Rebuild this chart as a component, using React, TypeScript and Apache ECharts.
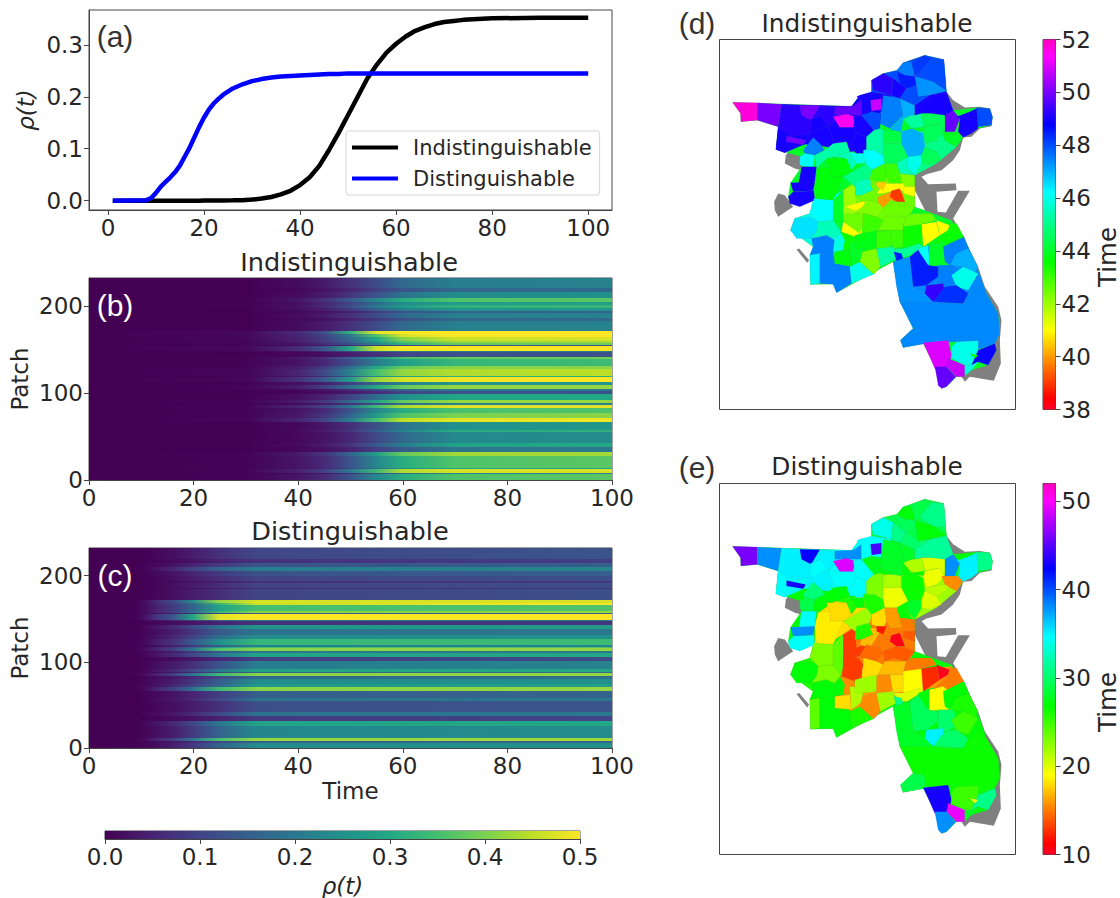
import React, { useEffect, useRef } from "react";
import * as echarts from "echarts";

// ---- Panel (a): mean prevalence over time ----
const timeA = [1,8,9,10,11,12,13,14,15,16,17,18,19,20,21,22,23,24,26,28,30,32,34,36,38,40,42,44,46,48,50,52,54,56,58,60,62,64,66,68,70,72,74,76,80,90,100];
const rhoIndist = [0,0,0,0,0,0,0,0,0,0,0,0,0,0.0005,0.0005,0.0005,0.0005,0.0005,0.0007,0.001,0.002,0.004,0.007,0.012,0.019,0.03,0.045,0.067,0.097,0.13,0.165,0.2,0.235,0.262,0.285,0.302,0.316,0.327,0.334,0.34,0.344,0.346,0.348,0.349,0.351,0.352,0.352];
const rhoDist = [0,0.001,0.005,0.015,0.027,0.036,0.045,0.055,0.068,0.085,0.102,0.122,0.142,0.16,0.175,0.187,0.196,0.204,0.216,0.224,0.23,0.234,0.237,0.239,0.24,0.241,0.242,0.243,0.244,0.244,0.245,0.245,0.245,0.245,0.245,0.245,0.245,0.245,0.245,0.245,0.245,0.245,0.245,0.245,0.245,0.245,0.245];

// ---- Panel (b): bands of patches (top edge of each band) and rho read at the sampled times ----
const timesB = [0,30,40,45,50,55,60,70,100];
const bandTopB = [232,220,216,209.5,204,201,198,194,192,186,183,171,168,164,160,157,155.5,154,148,147,141,138.5,131,127,120,118,113,109.5,105,102,99,92,88.4,86.5,83,77,71,67,58,55,42.5,38,32,27,14,12.5,8.5,6.5];
const rhoB = [
[0,.015,.035,.07,.115,.17,.21,.22],[0,.01,.025,.05,.09,.13,.165,.17],[0,.015,.035,.075,.13,.19,.24,.25],
[.002,.03,.07,.14,.23,.31,.36,.37],[0,.02,.05,.1,.17,.24,.275,.28],[.001,.025,.06,.12,.2,.27,.32,.33],
[0,.018,.04,.085,.15,.21,.255,.26],[0,.01,.02,.045,.085,.125,.155,.16],[0,.015,.035,.07,.115,.17,.215,.22],
[0,.008,.02,.045,.08,.12,.165,.17],[0,.015,.035,.07,.115,.17,.215,.22],[.012,.06,.12,.32,.48,.5,.5,.5],
[.008,.05,.1,.2,.36,.47,.5,.5],[.008,.045,.09,.17,.3,.41,.46,.47],[.006,.04,.08,.15,.26,.36,.42,.43],
[.005,.03,.065,.12,.22,.32,.38,.39],[.002,.015,.03,.055,.08,.1,.12,.12],[.012,.06,.13,.3,.46,.5,.5,.5],
[.004,.02,.05,.1,.16,.19,.2,.21],[0,.008,.02,.04,.07,.1,.125,.13],[.003,.03,.07,.15,.26,.35,.38,.39],
[.002,.025,.055,.12,.21,.28,.33,.34],[.004,.04,.085,.18,.3,.38,.41,.41],[.006,.05,.11,.22,.35,.42,.44,.45],
[.003,.03,.06,.13,.23,.29,.32,.32],[.008,.07,.14,.27,.42,.47,.49,.5],[.002,.02,.04,.09,.16,.22,.26,.26],
[.004,.04,.09,.18,.3,.38,.42,.42],[.001,.012,.03,.06,.11,.16,.2,.2],[0,.006,.015,.035,.06,.1,.13,.13],
[.002,.02,.045,.1,.18,.25,.295,.3],[.004,.035,.08,.17,.29,.38,.42,.42],[.001,.015,.035,.07,.12,.18,.22,.22],
[.006,.05,.1,.2,.34,.44,.48,.48],[.003,.028,.06,.13,.23,.31,.355,.36],[.004,.035,.075,.16,.27,.36,.4,.41],
[.006,.05,.1,.21,.35,.45,.48,.49],[0,.012,.03,.065,.125,.19,.25,.26],[.001,.016,.038,.08,.15,.23,.31,.32],
[0,.01,.025,.055,.11,.17,.235,.24],[.001,.015,.035,.075,.14,.21,.29,.3],[0,.008,.02,.045,.09,.14,.195,.2],
[.004,.035,.075,.16,.28,.38,.43,.43],[.003,.028,.06,.13,.23,.31,.36,.37],[.002,.02,.045,.1,.18,.25,.3,.3],
[.005,.045,.095,.2,.34,.44,.47,.47],[.001,.012,.03,.06,.12,.17,.22,.22],[.003,.028,.06,.13,.23,.31,.36,.37],
];

// ---- Panel (c) ----
const timesC = [0,9,11,13,16,20,25,32,100];
const bandTopC = [232,219.6,215,210,205,199.5,193.7,191,186,184,171.6,168,165.5,158.9,157,155,149,147,142.7,138.4,130.7,126,119.5,117,116,112.9,110.2,105.2,100.5,92,88.2,86.6,83.5,80.4,74.2,70.4,66.5,58,54.1,41.7,37.1,31.7,25.9,11.6,8.5,5.8];
const rhoC = [
[0,.003,.01,.02,.04,.07,.105,.13],[0,.002,.006,.012,.025,.045,.07,.09],[0,.004,.012,.025,.05,.085,.125,.15],
[.001,.008,.025,.055,.1,.16,.21,.23],[0,.004,.012,.025,.05,.085,.125,.15],[0,.003,.008,.02,.04,.065,.1,.12],
[0,.002,.005,.012,.025,.04,.065,.08],[0,.003,.008,.02,.04,.065,.1,.12],[0,.002,.005,.01,.02,.035,.055,.07],
[0,.003,.008,.02,.04,.065,.1,.12],[.002,.025,.065,.11,.24,.42,.47,.47],[.002,.02,.05,.09,.17,.33,.46,.5],
[.002,.02,.045,.085,.16,.29,.35,.36],[.002,.02,.05,.09,.18,.33,.41,.42],[0,.008,.02,.04,.07,.11,.14,.15],
[.003,.03,.08,.13,.3,.48,.5,.5],[.001,.01,.025,.045,.085,.14,.19,.2],[0,.003,.008,.015,.03,.05,.07,.08],
[.001,.012,.03,.055,.11,.19,.26,.27],[0,.008,.02,.04,.08,.14,.19,.2],[.001,.01,.025,.05,.1,.18,.24,.25],
[.001,.015,.04,.07,.14,.25,.33,.34],[0,.008,.02,.04,.08,.15,.215,.22],[.002,.018,.045,.08,.16,.28,.35,.36],
[.002,.022,.05,.09,.2,.36,.41,.42],[0,.008,.02,.04,.08,.14,.195,.2],[.001,.012,.03,.055,.11,.2,.29,.3],
[0,.003,.008,.015,.03,.055,.09,.11],[0,.007,.018,.035,.07,.13,.21,.22],[.001,.012,.03,.055,.11,.2,.29,.3],
[0,.006,.015,.03,.055,.1,.16,.17],[.002,.02,.05,.09,.2,.34,.41,.42],[0,.006,.015,.03,.06,.11,.17,.18],
[0,.008,.02,.04,.08,.15,.24,.25],[.001,.01,.025,.05,.1,.17,.27,.28],[.002,.02,.05,.09,.19,.34,.41,.42],
[0,.004,.012,.025,.05,.09,.15,.16],[0,.006,.015,.03,.06,.11,.19,.2],[0,.003,.01,.02,.04,.07,.12,.13],
[0,.006,.015,.03,.06,.11,.19,.2],[0,.002,.006,.012,.025,.045,.085,.1],[.001,.012,.03,.055,.11,.2,.29,.3],
[.001,.008,.02,.04,.085,.16,.23,.24],[.002,.02,.05,.09,.2,.35,.42,.43],[0,.005,.015,.03,.06,.1,.15,.16],
[.001,.008,.02,.04,.085,.16,.24,.25],
];

// ---- Panels (d), (e): land without data, then patches, in map units ----
const landShapes = [
[[830,275],[850,300],[885,322],[930,320],[960,325],[968,350],[965,378],[930,385],[905,410],[880,412],[870,450],[850,480],[815,510],[770,522],[755,530],[775,552],[858,550],[860,570],[800,575],[803,635],[828,637],[865,572],[900,572],[850,655],[880,710],[925,800],[945,860],[985,920],[995,960],[990,1020],[993,1090],[972,1142],[900,1130],[885,1145],[875,1130],[860,1020],[800,700],[700,500]],
[[345,490],[348,465],[370,435],[400,450],[395,510],[375,505]],
[[313,605],[325,580],[345,585],[370,620],[325,650],[315,630]],
[[380,748],[388,745],[418,780],[412,788]],
];
const patchShapes = [
[[188,306],[545,318],[570,285],[605,280],[605,240],[640,220],[682,210],[700,188],[765,165],[822,178],[830,275],[850,330],[925,322],[960,325],[968,350],[965,375],[925,385],[880,412],[860,440],[800,490],[735,525],[735,620],[845,660],[882,710],[925,810],[950,880],[985,940],[990,1000],[975,1030],[980,1050],[955,1095],[905,1110],[885,1130],[860,1130],[830,1160],[815,1165],[795,1100],[760,1030],[700,1042],[692,1020],[730,985],[690,905],[670,785],[500,878],[490,852],[422,853],[420,765],[430,740],[362,690],[375,655],[420,640],[432,595],[360,610],[355,590],[362,548],[395,500],[395,470],[318,448],[325,380],[262,360],[213,365],[212,340]],
// broad districts, laid under the single patches
[[325,380],[335,312],[545,318],[570,285],[605,280],[640,320],[612,390],[590,450],[540,455],[470,440],[405,432],[345,458],[318,448]],
[[605,240],[640,220],[682,210],[700,188],[765,165],[822,178],[830,275],[850,330],[825,345],[760,340],[700,345],[640,320],[605,280]],
[[670,785],[720,770],[745,745],[882,710],[925,810],[950,880],[880,910],[690,905]],
[[430,600],[520,570],[520,700],[495,760],[420,765],[430,740],[362,690],[375,655],[420,640]],
[[590,410],[640,390],[825,395],[880,410],[860,440],[800,490],[735,525],[650,500],[590,480]],
[[435,545],[445,505],[495,470],[590,450],[600,540],[520,570],[470,600],[435,600]],
[[510,700],[700,680],[845,665],[882,710],[672,755],[612,822],[545,800],[495,760]],
[[520,570],[600,510],[735,525],[735,620],[700,680],[580,700],[520,665]],
// single patches
[[188,306],[262,308],[262,360],[213,365],[212,340]],
[[262,308],[335,312],[325,380],[262,360]],
[[335,312],[390,315],[425,358],[420,400],[365,410],[325,380]],
[[390,315],[450,316],[450,345],[420,358],[395,345]],
[[450,316],[495,320],[495,365],[475,375],[450,345],[425,358]],
[[495,320],[550,318],[575,300],[575,345],[530,345],[495,345]],
[[490,350],[530,342],[555,350],[550,382],[510,382]],
[[325,380],[365,410],[345,420],[400,420],[405,432],[370,440],[345,458],[318,448]],
[[350,408],[408,420],[400,433],[350,425]],
[[420,400],[475,375],[490,420],[470,440],[440,430],[405,420]],
[[475,375],[510,382],[550,382],[560,400],[540,440],[490,420]],
[[550,350],[575,345],[612,390],[600,420],[590,410],[560,400]],
[[540,440],[560,400],[590,410],[590,450],[580,460],[560,460]],
[[400,450],[430,412],[450,430],[465,450],[435,465],[405,460]],
[[390,470],[405,460],[435,465],[430,500],[415,500],[390,495]],
[[435,465],[465,450],[490,430],[530,425],[540,455],[495,470],[470,475],[440,505]],
[[395,500],[440,500],[435,545],[385,555],[390,530]],
[[362,548],[435,545],[430,572],[370,575]],
[[370,575],[432,572],[435,600],[390,620],[360,610],[355,590]],
[[470,475],[530,475],[550,510],[520,530],[480,530],[480,500]],
[[445,505],[480,500],[480,530],[520,530],[490,600],[470,600],[440,595],[435,545]],
[[495,470],[540,455],[575,470],[560,490],[545,510],[530,475]],
[[540,455],[560,460],[580,460],[585,490],[560,490]],
[[580,450],[600,445],[615,450],[640,465],[645,490],[605,510],[585,490]],
[[590,410],[612,390],[630,385],[640,390],[640,465],[615,450],[590,450]],
[[640,392],[690,388],[695,430],[640,430]],
[[640,430],[695,430],[715,470],[680,490],[645,490],[640,465]],
[[695,395],[725,385],[760,400],[765,440],[760,470],[715,470],[695,430]],
[[715,470],[755,465],[755,490],[735,525],[710,500]],
[[680,490],[715,470],[710,500],[730,525],[690,520]],
[[760,400],[765,380],[810,370],[825,395],[800,420],[770,430]],
[[725,345],[755,340],[765,380],[725,385],[700,355]],
[[815,395],[865,395],[880,410],[860,440],[840,430],[825,420]],
[[770,430],[825,420],[840,430],[810,450],[800,455],[765,440]],
[[765,440],[800,455],[815,480],[780,495],[755,490],[755,465]],
[[682,210],[700,188],[725,185],[735,228],[705,225]],
[[725,185],[765,165],[785,175],[760,205],[735,228]],
[[785,175],[822,178],[828,250],[790,245],[750,220],[760,205]],
[[682,215],[705,225],[735,228],[740,255],[710,265],[690,250]],
[[740,255],[735,228],[790,245],[830,272],[780,285],[745,290]],
[[605,240],[640,220],[670,235],[665,285],[610,270]],
[[670,235],[690,250],[710,265],[690,295],[665,285]],
[[560,290],[570,285],[605,275],[665,285],[640,320],[605,335],[590,345],[575,345],[575,300]],
[[602,300],[635,296],[635,328],[605,332]],
[[640,285],[690,295],[700,345],[660,385],[630,370],[635,340]],
[[575,345],[605,335],[635,340],[630,385],[612,390]],
[[690,295],[735,315],[735,345],[725,345],[700,355],[695,395],[660,388],[700,345]],
[[735,315],[780,285],[830,275],[850,330],[830,355],[785,340],[755,340],[735,345]],
[[710,265],[745,290],[780,285],[735,315],[690,295]],
[[825,345],[850,330],[870,355],[855,395],[825,395],[825,370]],
[[860,350],[900,335],[925,322],[925,385],[905,400],[880,412],[865,395],[870,355]],
[[920,322],[960,325],[968,350],[965,375],[925,380]],
[[785,340],[825,345],[825,395],[810,370],[765,380],[755,340]],
[[432,595],[490,600],[510,625],[490,660],[445,665],[420,640]],
[[490,620],[525,610],[520,650],[490,660]],
[[375,655],[420,650],[445,665],[440,695],[425,715],[380,715],[362,690]],
[[445,665],[490,660],[515,690],[495,715],[470,705],[425,715],[440,695]],
[[425,715],[470,705],[495,720],[490,760],[450,760],[420,765],[430,740]],
[[495,715],[515,695],[530,720],[525,750],[490,755]],
[[420,765],[450,760],[450,850],[422,853]],
[[450,760],[490,755],[495,790],[545,800],[545,850],[500,878],[490,852],[450,850]],
[[540,800],[570,785],[612,822],[545,850]],
[[510,695],[555,705],[555,745],[520,750],[525,720]],
[[495,755],[540,750],[545,795],[495,790]],
[[540,725],[580,730],[578,770],[545,795]],
[[490,600],[520,570],[520,665],[515,695],[490,660]],
[[520,665],[570,660],[580,700],[555,710],[515,695]],
[[520,570],[555,550],[560,610],[585,625],[535,650],[520,650]],
[[525,620],[590,600],[590,615],[555,632]],
[[520,640],[565,640],[580,660],[570,700],[520,665]],
[[520,530],[555,510],[590,490],[605,510],[600,540],[555,560]],
[[560,545],[600,535],[610,570],[575,585],[555,585]],
[[605,510],[645,490],[650,530],[640,550],[605,540]],
[[645,490],[680,490],[690,520],[700,550],[660,550],[650,530]],
[[690,520],[730,525],[735,560],[700,570]],
[[600,550],[640,550],[620,580],[600,610],[570,600],[575,585],[610,570]],
[[640,550],[700,550],[715,575],[680,570],[640,580],[620,580]],
[[620,545],[650,545],[640,570],[620,560]],
[[625,590],[665,575],[700,580],[705,605],[660,600],[640,625],[625,610]],
[[665,572],[690,565],[705,605],[680,605],[660,590]],
[[700,560],[735,560],[735,590],[700,580]],
[[590,600],[630,610],[640,625],[620,650],[590,640],[565,640],[575,625]],
[[640,620],[680,605],[710,610],[735,620],[710,650],[670,640],[645,650]],
[[580,640],[620,650],[640,660],[625,690],[600,705],[575,700],[580,660]],
[[645,650],[710,650],[700,690],[660,690],[625,690],[640,660]],
[[575,700],[625,690],[620,740],[580,745],[555,745],[555,705]],
[[620,695],[660,690],[670,730],[640,760],[620,745]],
[[660,690],[700,690],[700,740],[670,745]],
[[700,670],[755,665],[760,740],[700,745]],
[[755,672],[800,665],[810,705],[760,740]],
[[800,660],[840,675],[835,690],[810,705]],
[[840,670],[860,670],[882,710],[875,740],[820,740],[778,745],[835,690]],
[[730,640],[785,640],[800,660],[755,672],[700,680],[710,650]],
[[578,755],[620,745],[635,780],[632,800],[612,822],[570,785]],
[[620,745],[672,740],[680,775],[632,800]],
[[700,745],[750,730],[760,740],[712,770],[685,770],[672,745]],
[[672,755],[695,760],[700,775],[680,785]],
[[745,745],[775,735],[780,795],[760,790]],
[[778,735],[820,725],[845,745],[840,795],[778,798]],
[[820,740],[882,710],[895,745],[860,760],[840,795],[825,785]],
[[860,760],[895,745],[925,800],[905,830],[880,800],[840,795]],
[[805,795],[850,795],[870,840],[830,860],[805,850]],
[[845,825],[880,800],[925,820],[895,870],[860,860]],
[[670,785],[720,770],[730,860],[770,880],[790,905],[730,920],[690,905],[680,860]],
[[690,905],[790,905],[880,910],[895,885],[925,860],[950,880],[985,940],[990,1000],[975,1030],[920,1050],[860,1025],[760,1030],[700,1042],[692,1020],[730,985]],
[[692,1020],[730,985],[762,990],[770,1030],[700,1042]],
[[720,770],[745,750],[775,795],[805,800],[805,830],[770,855],[730,860]],
[[770,855],[820,850],[825,875],[790,905],[765,880]],
[[825,860],[860,855],[895,880],[880,910],[790,905]],
[[760,1028],[835,1020],[845,1065],[835,1100],[795,1105],[775,1060]],
[[795,1100],[830,1100],[858,1130],[830,1160],[815,1165],[805,1155]],
[[835,1075],[885,1095],[885,1130],[860,1130],[830,1100]],
[[860,1025],[925,1022],[925,1050],[905,1095],[885,1095],[845,1075],[845,1040]],
[[925,1050],[975,1030],[980,1050],[955,1095],[925,1085],[905,1095]],
[[900,1060],[925,1065],[915,1075]],
[[885,1095],[905,1095],[925,1085],[905,1110],[885,1125]],
];
const arrivalD = [44,
49,48,47.4,46,45,44,43.8,42.5,
51.7,50,49.2,50,49.2,49.8,51.5,49,50,49,49,49,49,47.5,46.2,45.3,49,49,49,43.7,43.7,45.5,46,46.2,45.3,
44.3,44.5,47,46,45.5,44.5,45.2,44,45,44.5,47.5,48.2,48,48.5,47.3,49.2,49,49,50.8,47.5,48,47,49,48,
49.8,49,48,44.5,46.2,46,46.5,45.5,47.5,46,46.3,47.5,46,43.5,43.7,44,44,41,42,41,42.5,45,45.5,43,43,
42.3,42.5,41,40.5,40,39,41,42.3,42.5,43,42.5,43.8,43,43,43.5,41,41,43.5,42.5,42.3,45.3,45.2,48.5,46.2,
44,47.5,47,47.5,46,47.3,47.4,47.4,48.5,49.3,48.3,51,49.8,50.8,46,48.9,43.5,46];
const arrivalE = [27,
34.5,29,27,26,22,18,16,15,
46,38,35,42.5,35,38,49,34.5,43,35,34.5,34.5,34.5,30.5,29,27,34.5,38,34.5,18,18.5,26,27,26,23,
21.5,19.5,26.5,28,27,19.5,21.5,15.5,21,20,27,29,31,29.5,27,34,31,34.5,44.5,28,27.5,28,31.5,30,
38,35,31,20,23,25,27,23,27,27,24,27,26,15.5,18,21.5,24,13,13,13,13,22,26,18,16,
15,17,15,12,15,10.5,14,14.5,14,18,17,22,15.5,18,19,12.5,10.3,15,15,15.5,22,20,31,27,
19,27,26,30,25,28,26.5,29,29.5,35,30,43,38,49.5,25,31,19,28];

// ---- Colour maps ----
const viridisStops = ["#440154","#482475","#414487","#355f8d","#2a788e","#21918c","#22a884","#44bf70","#7ad151","#bddf26","#fde725"];
const rainbowStops: [number, number[]][] = [[0,[255,0,41]],[0.03,[255,0,0]],[0.215,[255,255,0]],[0.4,[0,255,0]],[0.586,[0,255,255]],[0.77,[0,0,255]],[0.954,[255,0,255]],[1,[255,0,191]]];

const hexRgb = (h: string) => [1, 3, 5].map((i) => parseInt(h.slice(i, i + 2), 16));
const mix = (a: number[], b: number[], f: number) => `rgb(${a.map((c, i) => Math.round(c + (b[i] - c) * f)).join(",")})`;
function viridis(v: number) {
  const t = Math.min(0.9999, Math.max(0, v / 0.5)) * 10;
  const i = Math.floor(t);
  return mix(hexRgb(viridisStops[i]), hexRgb(viridisStops[i + 1]), t - i);
}
function rainbow(t: number) {
  for (let i = 1; i < rainbowStops.length; i++) {
    if (t <= rainbowStops[i][0]) {
      const [a, ca] = rainbowStops[i - 1];
      const [b, cb] = rainbowStops[i];
      return mix(ca, cb, (t - a) / (b - a));
    }
  }
  return "rgb(255,0,191)";
}

const FONT = "DejaVu Sans";
const INK = "#262626";
const TICK = 23;

function valueAxis(gridIndex: number, min: number, max: number, ticks: number[], extra: any = {}) {
  return {
    type: "value", gridIndex, min, max, splitLine: { show: false },
    axisLine: { show: true, onZero: false, lineStyle: { color: "#444", width: 1 } },
    axisTick: { show: true, length: 5, customValues: ticks, lineStyle: { color: "#444" } },
    axisLabel: { customValues: ticks, fontFamily: FONT, fontSize: TICK, color: INK, margin: 6, hideOverlap: false, showMinLabel: true, showMaxLabel: true, ...(extra.label || {}) },
    ...(extra.axis || {}),
  };
}
const hiddenAxis = (gridIndex: number, min: number, max: number, inverse = false) => ({ type: "value", gridIndex, min, max, inverse, show: false });

function heatSeries(idx: number, tops: number[], rows: number[][], times: number[]) {
  return {
    type: "custom", xAxisIndex: idx, yAxisIndex: idx, silent: true, z: 1,
    data: tops.map((t, i) => [i]),
    renderItem: (p: any, api: any) => {
      const i = p.dataIndex;
      const a = api.coord([0, tops[i]]);
      const b = api.coord([100, i + 1 < tops.length ? tops[i + 1] : 0]);
      const vals = [0, ...rows[i]];
      const y0 = Math.round(a[1]);
      const y1 = Math.round(b[1]);
      return {
        type: "rect",
        shape: { x: a[0], y: y0, width: b[0] - a[0], height: Math.max(1, y1 - y0) },
        style: { fill: new echarts.graphic.LinearGradient(0, 0, 1, 0, times.map((t, k) => ({ offset: t / 100, color: viridis(vals[k]) }))) },
      };
    },
  };
}

function mapSeries(idx: number, vmin: number, vmax: number, values: number[]) {
  return [
    {
      type: "custom", xAxisIndex: idx, yAxisIndex: idx, silent: true, z: 1, data: landShapes.map((s, i) => [i]),
      renderItem: (p: any, api: any) => ({ type: "polygon", shape: { points: landShapes[p.dataIndex].map((q) => api.coord(q)) }, style: { fill: "#808080" } }),
    },
    {
      type: "custom", xAxisIndex: idx, yAxisIndex: idx, silent: true, z: 2, data: patchShapes.map((s, i) => [i]),
      renderItem: (p: any, api: any) => ({
        type: "polygon",
        shape: { points: patchShapes[p.dataIndex].map((q) => api.coord(q)) },
        style: { fill: rainbow((values[p.dataIndex] - vmin) / (vmax - vmin)), stroke: "rgba(120,120,120,0.22)", lineWidth: 0.5 },
      }),
    },
  ];
}

function rainbowBar(idx: number, vmin: number, vmax: number) {
  return {
    type: "custom", xAxisIndex: idx, yAxisIndex: idx, silent: true, data: [[0]],
    renderItem: (p: any, api: any) => {
      const a = api.coord([0, vmax]);
      const b = api.coord([1, vmin]);
      return {
        type: "rect", shape: { x: a[0], y: a[1], width: b[0] - a[0], height: b[1] - a[1] },
        style: { fill: new echarts.graphic.LinearGradient(0, 1, 0, 0, rainbowStops.map(([o, c]) => ({ offset: o, color: `rgb(${c.join(",")})` }))) },
      };
    },
  };
}

const label = (text: string, x: number, y: number, fontSize: number, fill: string, family = FONT, rotation = 0) => ({
  type: "text", x, y, z: 100, rotation, silent: true,
  style: { text, fontSize, fontFamily: family, fill, textAlign: "center", textVerticalAlign: "middle" },
});

const border = { show: true, borderColor: "#444", borderWidth: 1, backgroundColor: "transparent" };

function buildOption() {
  const oneDec = { formatter: (v: number) => v.toFixed(1) };
  const nameStyle = { fontFamily: FONT, fontSize: 23, color: INK };
  return {
    animation: false,
    backgroundColor: "#fff",
    grid: [
      { left: 89, top: 10, width: 523, height: 200, ...border },
      { left: 89, top: 278, width: 523, height: 202, ...border },
      { left: 89, top: 548, width: 523, height: 200, ...border },
      { left: 105, top: 831, width: 475, height: 20, ...border },
      { left: 719.5, top: 39.5, width: 296, height: 370, ...border },
      { left: 719.5, top: 483.5, width: 296, height: 371, ...border },
      { left: 1043, top: 39.5, width: 12.5, height: 370, ...border },
      { left: 1043, top: 483.5, width: 12.5, height: 371, ...border },
    ],
    xAxis: [
      valueAxis(0, -3.95, 104.95, [0, 20, 40, 60, 80, 100]),
      valueAxis(1, 0, 100, [0, 20, 40, 60, 80, 100]),
      valueAxis(2, 0, 100, [0, 20, 40, 60, 80, 100], { axis: { name: "Time", nameLocation: "middle", nameGap: 31, nameTextStyle: nameStyle } }),
      valueAxis(3, 0, 0.5, [0, 0.1, 0.2, 0.3, 0.4, 0.5], { label: oneDec, axis: { name: "ρ(t)", nameLocation: "middle", nameGap: 35, nameTextStyle: { ...nameStyle, fontStyle: "italic" } } }),
      hiddenAxis(4, 149, 1037),
      hiddenAxis(5, 149, 1037),
      hiddenAxis(6, 0, 1),
      hiddenAxis(7, 0, 1),
    ],
    yAxis: [
      valueAxis(0, -0.018, 0.367, [0, 0.1, 0.2, 0.3], { label: oneDec, axis: { name: "ρ(t)", nameLocation: "middle", nameGap: 52, nameTextStyle: { ...nameStyle, fontStyle: "italic" } } }),
      valueAxis(1, 0, 232, [0, 100, 200], { axis: { name: "Patch", nameLocation: "middle", nameGap: 58, nameTextStyle: nameStyle } }),
      valueAxis(2, 0, 232, [0, 100, 200], { axis: { name: "Patch", nameLocation: "middle", nameGap: 58, nameTextStyle: nameStyle } }),
      hiddenAxis(3, 0, 1),
      hiddenAxis(4, 118, 1228, true),
      hiddenAxis(5, 118, 1228, true),
      { ...valueAxis(6, 38, 52, [38, 40, 42, 44, 46, 48, 50, 52]), position: "right" },
      { ...valueAxis(7, 10, 52, [10, 20, 30, 40, 50]), position: "right" },
    ],
    legend: {
      left: 346, top: 131, orient: "vertical", padding: [6, 8, 6, 6], itemGap: 10, itemWidth: 46, itemHeight: 4, icon: "rect",
      data: ["Indistinguishable", "Distinguishable"],
      backgroundColor: "#fff", borderColor: "#d5d5d5", borderWidth: 1, borderRadius: 3,
      textStyle: { fontFamily: FONT, fontSize: 21, color: INK, padding: [0, 0, 0, 10] },
    },
    series: [
      { type: "line", name: "Indistinguishable", xAxisIndex: 0, yAxisIndex: 0, showSymbol: false, symbol: "none", lineStyle: { color: "#000", width: 4.5 }, itemStyle: { color: "#000" }, data: timeA.map((t, i) => [t, rhoIndist[i]]) },
      { type: "line", name: "Distinguishable", xAxisIndex: 0, yAxisIndex: 0, showSymbol: false, symbol: "none", lineStyle: { color: "#0000ff", width: 4.5 }, itemStyle: { color: "#0000ff" }, data: timeA.map((t, i) => [t, rhoDist[i]]) },
      heatSeries(1, bandTopB, rhoB, timesB),
      heatSeries(2, bandTopC, rhoC, timesC),
      {
        type: "custom", xAxisIndex: 3, yAxisIndex: 3, silent: true, data: [[0]],
        renderItem: (p: any, api: any) => {
          const a = api.coord([0, 1]);
          const b = api.coord([0.5, 0]);
          return {
            type: "rect", shape: { x: a[0], y: a[1], width: b[0] - a[0], height: b[1] - a[1] },
            style: { fill: new echarts.graphic.LinearGradient(0, 0, 1, 0, viridisStops.map((c, i) => ({ offset: i / 10, color: c }))) },
          };
        },
      },
      ...mapSeries(4, 38, 52, arrivalD),
      ...mapSeries(5, 10, 52, arrivalE),
      rainbowBar(6, 38, 52),
      rainbowBar(7, 10, 52),
    ],
    graphic: {
      elements: [
        label("Indistinguishable", 349, 262, 25.6, INK),
        label("Distinguishable", 350, 531, 25.6, INK),
        label("Indistinguishable", 867, 23, 24.8, INK),
        label("Distinguishable", 867, 466, 24.8, INK),
        label("(a)", 115, 36, 30, "#333", "Liberation Sans"),
        label("(b)", 115, 305, 30, "#fff", "Liberation Sans"),
        label("(c)", 115, 575, 30, "#fff", "Liberation Sans"),
        label("(d)", 697, 23, 30, "#333", "Liberation Sans"),
        label("(e)", 697, 467, 30, "#333", "Liberation Sans"),
        label("Time", 1107, 257, 24.5, INK, FONT, Math.PI / 2),
        label("Time", 1107, 702, 24.5, INK, FONT, Math.PI / 2),
      ],
    },
  };
}

export default function App() {
  const ref = useRef<HTMLDivElement>(null);
  useEffect(() => {
    document.body.style.margin = "0";
    const chart = echarts.init(ref.current!, null, { renderer: "svg" });
    chart.setOption(buildOption() as any);
    return () => chart.dispose();
  }, []);
  return <div ref={ref} style={{ width: 1120, height: 898 }} />;
}
